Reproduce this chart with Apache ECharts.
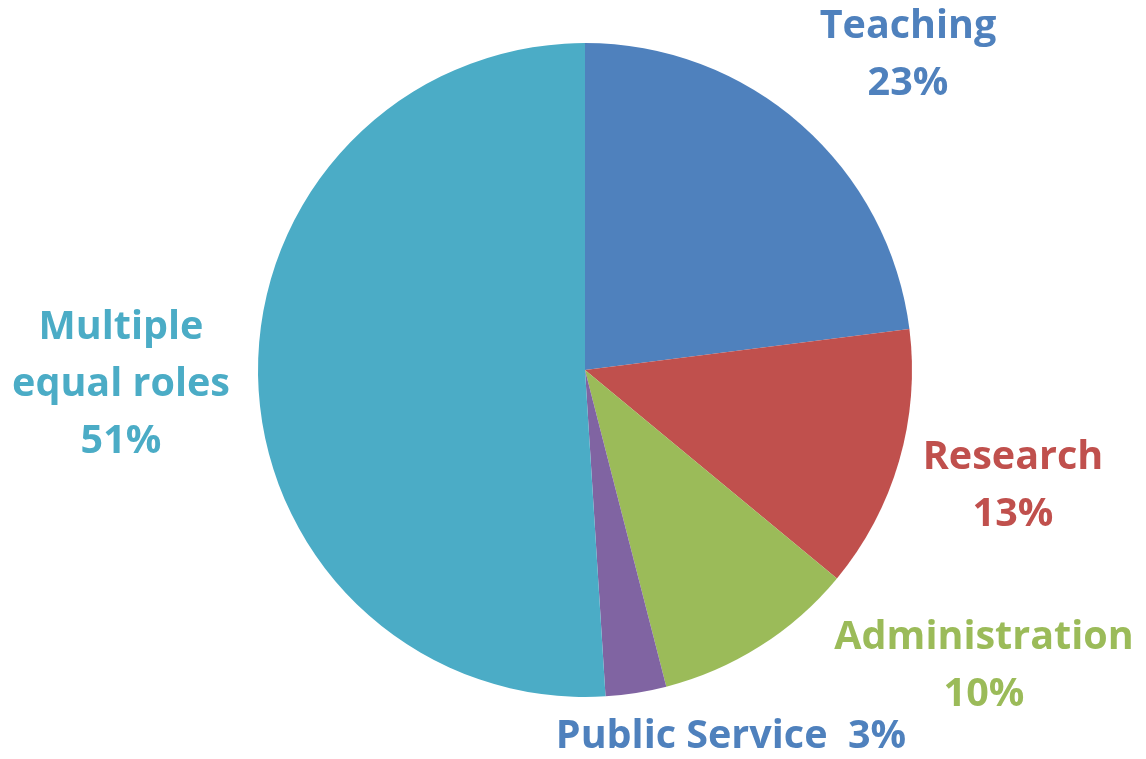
<!DOCTYPE html>
<html>
<head>
<meta charset="utf-8">
<script src="https://cdn.jsdelivr.net/npm/echarts@6/dist/echarts.min.js"></script>
<style>
  html, body { margin: 0; padding: 0; background: #ffffff; }
  #chart { width: 1146px; height: 759px; }
</style>
</head>
<body>
<div id="chart"></div>
<script>
// Primary role of faculty members (share of respondents, %)
const categories = ['Teaching', 'Research', 'Administration', 'Public Service', 'Multiple equal roles'];
const shares = [23, 13, 10, 3, 51];

// Slice fills and label colours, in category order
const sliceColors = ['#4F81BD', '#C0504D', '#9BBB59', '#8064A2', '#4BACC6'];
const labelColors = ['#4F81BD', '#C0504D', '#9BBB59', '#4F81BD', '#4BACC6'];

// Where each label block is centred on the canvas
const labelAnchors = [
  [908, 55],
  [1013, 486],
  [984, 666],
  [731, 737],
  [121, 385]
];

function labelText(name, value) {
  if (name === 'Public Service') return name + '  ' + value + '%';
  if (name === 'Multiple equal roles') return 'Multiple\nequal roles\n' + value + '%';
  return name + '\n' + value + '%';
}

const chart = echarts.init(document.getElementById('chart'), null, { renderer: 'canvas' });

chart.setOption({
  backgroundColor: '#ffffff',
  animation: false,
  series: [{
    type: 'pie',
    center: [585, 370],
    radius: 327,
    startAngle: 90,
    clockwise: true,
    avoidLabelOverlap: false,
    itemStyle: { borderWidth: 0 },
    label: {
      show: true,
      position: 'outside',
      fontFamily: '"Open Sans", Lato, sans-serif',
      fontWeight: 'bold',
      fontSize: 39.5,
      lineHeight: 57,
      align: 'center',
      formatter: p => labelText(p.name, p.value)
    },
    labelLine: { show: false },
    labelLayout: p => ({
      x: labelAnchors[p.dataIndex][0],
      y: labelAnchors[p.dataIndex][1],
      align: 'center',
      verticalAlign: 'middle'
    }),
    emphasis: { disabled: true },
    data: categories.map((name, i) => ({
      name: name,
      value: shares[i],
      itemStyle: { color: sliceColors[i] },
      label: { color: labelColors[i] }
    }))
  }]
});
</script>
</body>
</html>
